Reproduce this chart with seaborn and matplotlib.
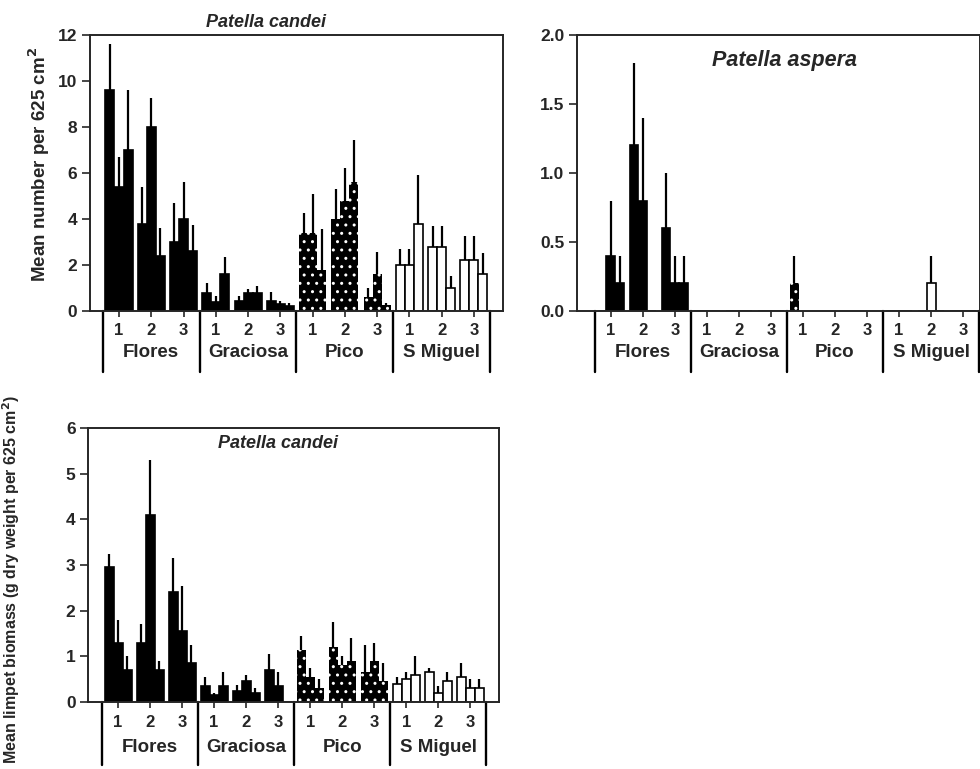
import matplotlib
matplotlib.use("Agg")
import numpy as np
import pandas as pd
import matplotlib.pyplot as plt
import matplotlib.transforms as mtransforms
import seaborn as sns

# islands, shores (1-3) and three replicate sites per shore
islands = ["Flores", "Graciosa", "Pico", "S Miguel"]
shores = ["1", "2", "3"]

# Patella candei - mean number per 625 cm2 (9 values per island: shore 1, 2, 3 x site a, b, c)
candei_num_mean = [
    9.6, 5.4, 7.0, 3.8, 8.0, 2.4, 3.0, 4.0, 2.6,
    0.8, 0.4, 1.6, 0.45, 0.8, 0.8, 0.45, 0.3, 0.2,
    3.4, 3.4, 1.8, 4.0, 4.8, 5.6, 0.6, 1.6, 0.25,
    2.0, 2.0, 3.8, 2.8, 2.8, 1.0, 2.2, 2.2, 1.6,
]
candei_num_se = [
    2.0, 1.3, 2.6, 1.6, 1.25, 1.2, 1.7, 1.6, 1.15,
    0.4, 0.27, 0.75, 0.2, 0.15, 0.3, 0.37, 0.15, 0.15,
    0.85, 1.7, 1.75, 1.3, 1.4, 1.85, 0.42, 0.95, 0.1,
    0.68, 0.68, 2.1, 0.9, 0.9, 0.5, 1.08, 1.08, 0.9,
]

# Patella aspera - mean number per 625 cm2
aspera_num_mean = [
    0.0, 0.4, 0.2, 1.2, 0.8, 0.0, 0.6, 0.2, 0.2,
    0.0, 0.0, 0.0, 0.0, 0.0, 0.0, 0.0, 0.0, 0.0,
    0.2, 0.0, 0.0, 0.0, 0.0, 0.0, 0.0, 0.0, 0.0,
    0.0, 0.0, 0.0, 0.0, 0.2, 0.0, 0.0, 0.0, 0.0,
]
aspera_num_se = [
    0.0, 0.4, 0.2, 0.6, 0.6, 0.0, 0.4, 0.2, 0.2,
    0.0, 0.0, 0.0, 0.0, 0.0, 0.0, 0.0, 0.0, 0.0,
    0.2, 0.0, 0.0, 0.0, 0.0, 0.0, 0.0, 0.0, 0.0,
    0.0, 0.0, 0.0, 0.0, 0.2, 0.0, 0.0, 0.0, 0.0,
]

# Patella candei - mean limpet biomass (g dry weight per 625 cm2)
candei_bio_mean = [
    2.95, 1.3, 0.7, 1.3, 4.1, 0.7, 2.4, 1.55, 0.85,
    0.35, 0.15, 0.35, 0.25, 0.45, 0.2, 0.7, 0.35, 0.0,
    1.15, 0.55, 0.3, 1.2, 0.8, 0.9, 0.65, 0.9, 0.45,
    0.4, 0.5, 0.6, 0.65, 0.2, 0.45, 0.55, 0.3, 0.3,
]
candei_bio_se = [
    0.3, 0.5, 0.3, 0.4, 1.2, 0.2, 0.75, 1.0, 0.4,
    0.2, 0.05, 0.3, 0.12, 0.15, 0.1, 0.35, 0.3, 0.0,
    0.3, 0.2, 0.2, 0.55, 0.2, 0.5, 0.6, 0.4, 0.4,
    0.15, 0.15, 0.4, 0.1, 0.15, 0.2, 0.3, 0.2, 0.2,
]

island_colors = {"Flores": "black", "Graciosa": "black", "Pico": "black", "S Miguel": "white"}
BAR_W = 0.28


def make_frame(means, ses):
    rows = []
    for i, isl in enumerate(islands):
        for s in range(3):
            for r in range(3):
                k = i * 9 + s * 3 + r
                rows.append({
                    "island": isl,
                    "shore": shores[s],
                    "pos": round(i * 3 + s + (r - 1) * BAR_W, 4),
                    "mean": means[k],
                    "se": ses[k],
                })
    return pd.DataFrame(rows)


def draw_panel(ax, df, xlim, ylim, yticks, yticklabels, sep_len, num_pad, lab_y):
    sns.barplot(data=df, x="pos", y="mean", hue="island", palette=island_colors,
                native_scale=True, width=1.0, dodge=False, errorbar=None,
                edgecolor="black", linewidth=1.2, legend=False, ax=ax)
    # stippled Pico bars
    for patch, isl in zip(ax.patches, df["island"]):
        if isl == "Pico":
            patch.set_edgecolor("white")
            patch.set_linewidth(0)
            patch.set_hatch("..")
    e = df[df["se"] > 0]
    ax.vlines(e["pos"], e["mean"], e["mean"] + e["se"], color="black", lw=1.6, zorder=3)

    ax.set_xlim(*xlim)
    ax.set_ylim(*ylim)
    ax.set_yticks(yticks)
    ax.set_yticklabels(yticklabels, fontsize=12.5, fontweight="bold")
    ax.set_xticks(range(12))
    ax.set_xticklabels(shores * 4, fontsize=12, fontweight="bold")
    ax.tick_params(axis="x", length=4, width=1.2, pad=num_pad)
    ax.tick_params(axis="y", length=6, width=1.2, pad=3)
    ax.set_xlabel("")
    ax.set_ylabel("")
    for sp in ax.spines.values():
        sp.set_linewidth(1.4)

    trans = mtransforms.blended_transform_factory(ax.transData, ax.transAxes)
    for b in [-0.5, 2.5, 5.5, 8.5, 11.5]:
        ax.plot([b, b], [0, -sep_len], transform=trans, clip_on=False, color="black", lw=1.7)
    for i, isl in enumerate(islands):
        ax.text(i * 3 + 1, -lab_y, isl, transform=trans, ha="center", va="center",
                fontsize=13.5, fontweight="bold")


sns.set_theme(style="ticks")
plt.rcParams["font.family"] = ["Liberation Sans", "DejaVu Sans"]

fig = plt.figure(figsize=(9.8, 7.69), dpi=100)
ax1 = fig.add_axes([0.0918, 0.5956, 0.4214, 0.3589])
ax2 = fig.add_axes([0.5888, 0.5956, 0.4112, 0.3589])
ax3 = fig.add_axes([0.0898, 0.0871, 0.4194, 0.3563])

draw_panel(ax1, make_frame(candei_num_mean, candei_num_se), (-0.90, 11.9), (0, 12),
           [0, 2, 4, 6, 8, 10, 12], ["0", "2", "4", "6", "8", "10", "12"], 0.221, 5, 0.152)
ax1.text(0.426, 1.047, "Patella candei", transform=ax1.transAxes, ha="center", va="center",
         fontsize=13, fontweight="bold", style="italic")
ax1.set_ylabel("Mean number per 625 cm$^\\mathbf{2}$", fontsize=13.5, fontweight="bold")
ax1.yaxis.set_label_coords(-0.092, 0.53)

draw_panel(ax2, make_frame(aspera_num_mean, aspera_num_se), (-1.06, 11.53), (0, 2.0),
           [0, 0.5, 1.0, 1.5, 2.0], ["0.0", "0.5", "1.0", "1.5", "2.0"], 0.221, 5, 0.152)
ax2.text(0.514, 0.909, "Patella aspera", transform=ax2.transAxes, ha="center", va="center",
         fontsize=15.5, fontweight="bold", style="italic")

draw_panel(ax3, make_frame(candei_bio_mean, candei_bio_se), (-0.94, 11.9), (0, 6),
           [0, 1, 2, 3, 4, 5, 6], ["0", "1", "2", "3", "4", "5", "6"], 0.23, 5, 0.165)
ax3.text(0.462, 0.945, "Patella candei", transform=ax3.transAxes, ha="center", va="center",
         fontsize=13, fontweight="bold", style="italic")
ax3.set_ylabel("Mean limpet biomass (g dry weight per 625 cm$^\\mathbf{2}$)", fontsize=11.5,
               fontweight="bold")
ax3.yaxis.set_label_coords(-0.16, 0.445)

fig.savefig("out.png", dpi=100)
